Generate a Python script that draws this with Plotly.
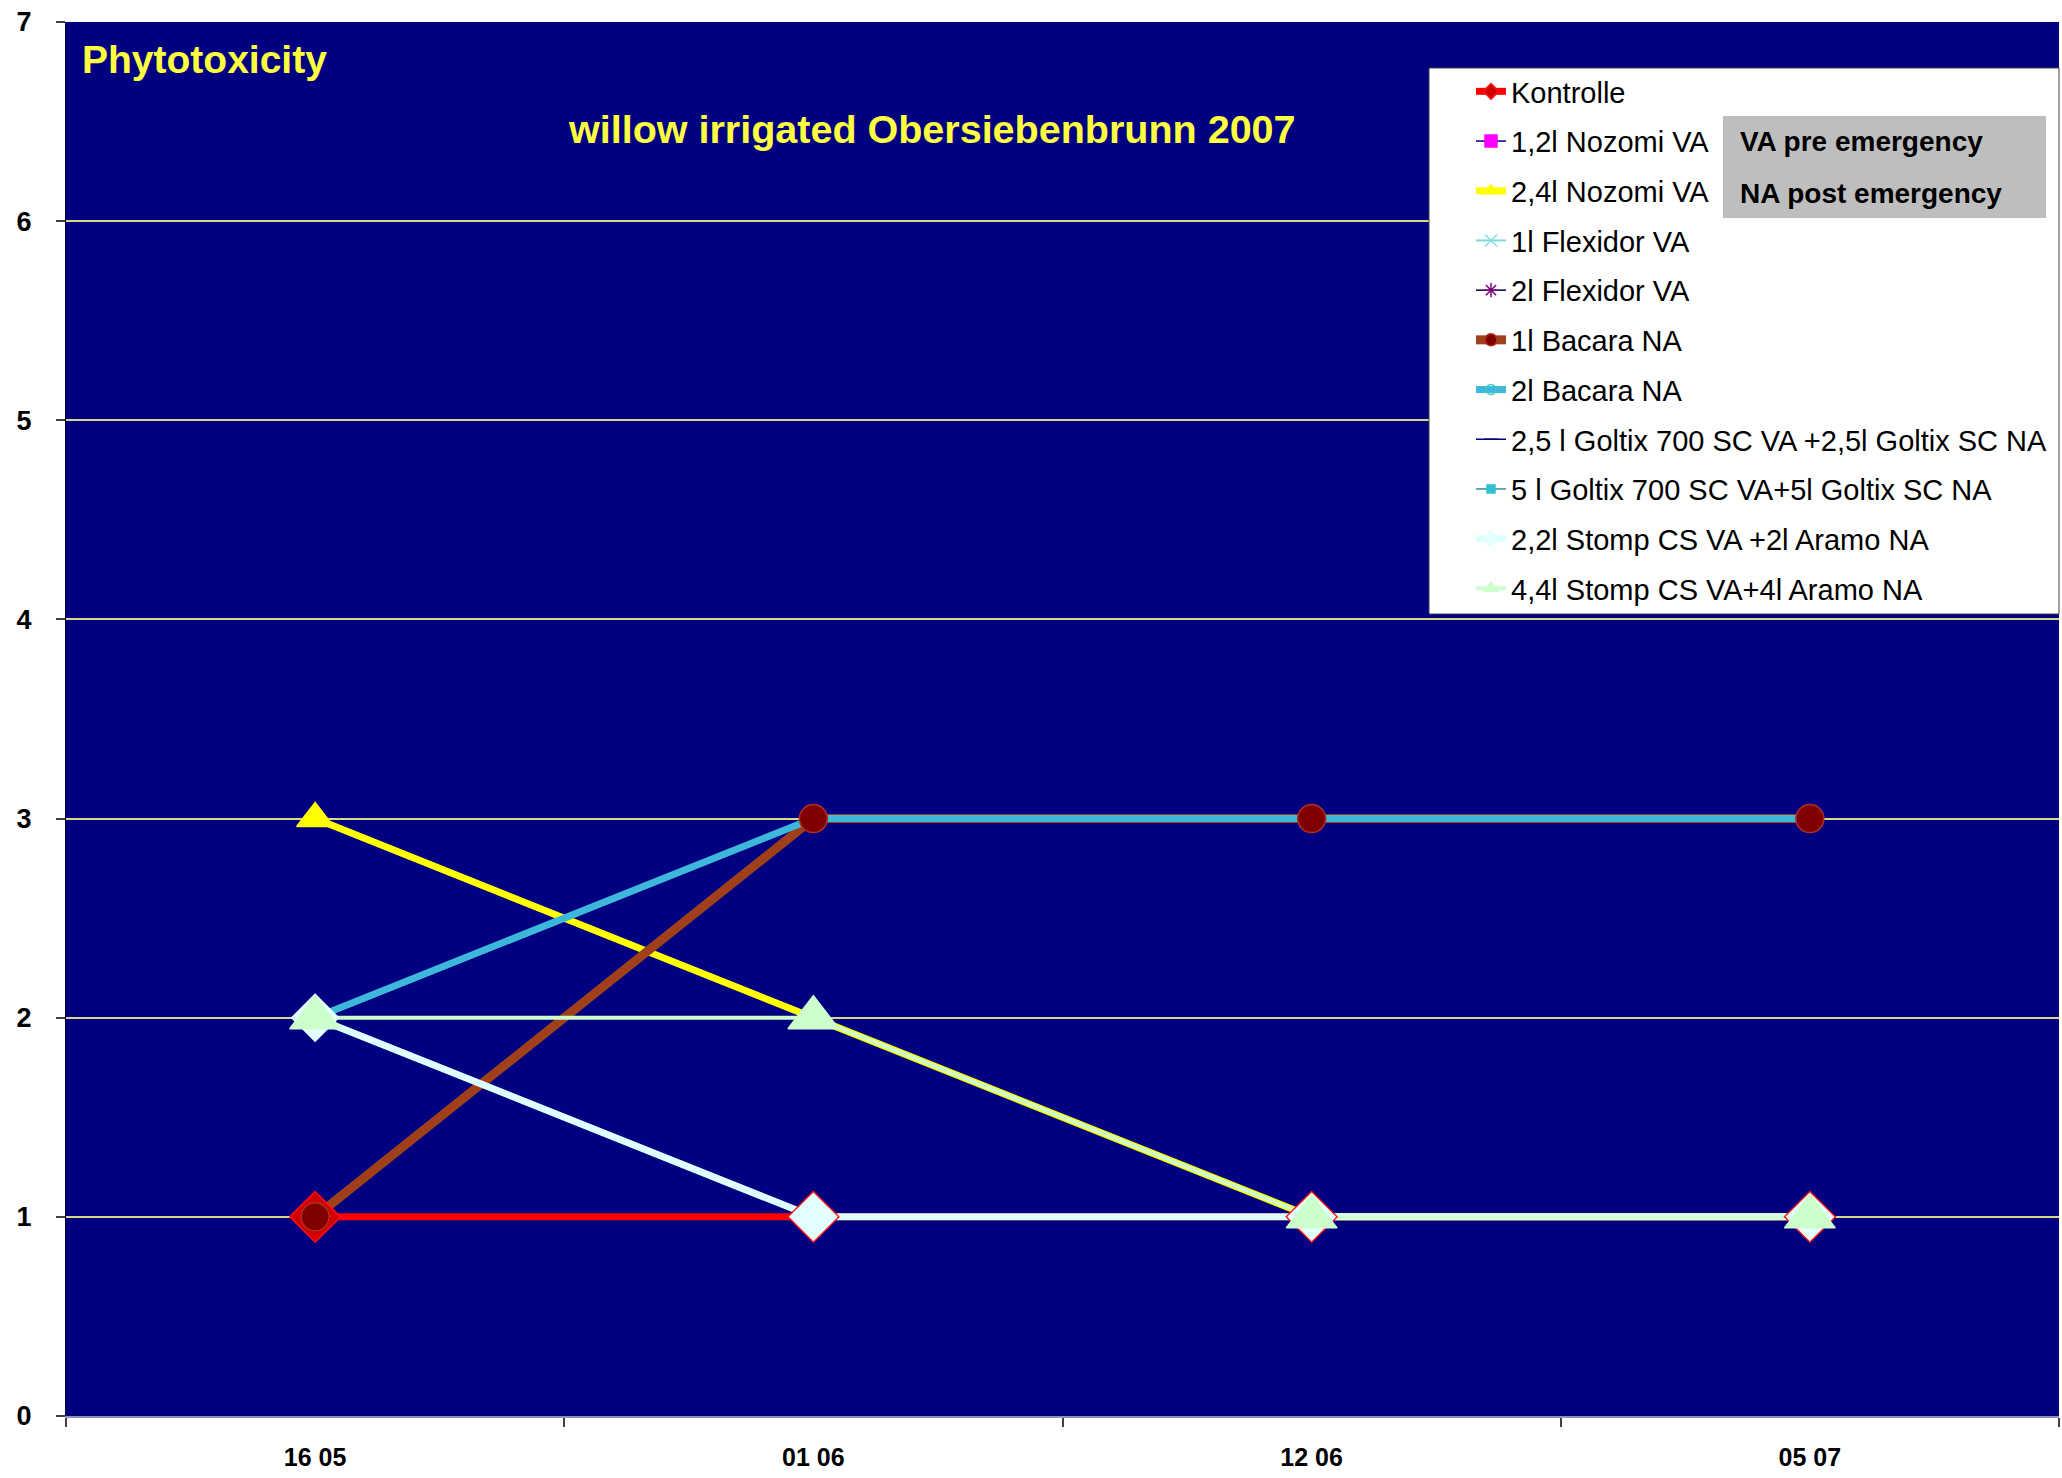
import plotly.graph_objects as go

# Assessment dates (category axis)
dates = ["16 05", "01 06", "12 06", "05 07"]

# Phytotoxicity scores per treatment (None = not assessed / no data)
kontrolle = [1, 1, 1, 1]
nozomi_12 = [None, None, None, None]
nozomi_24 = [3, 2, 1, 1]
flexidor_1 = [None, None, None, None]
flexidor_2 = [None, None, None, None]
bacara_1 = [1, 3, 3, 3]
bacara_2 = [2, 3, 3, 3]
goltix_25 = [None, None, None, None]
goltix_5 = [None, None, None, None]
stomp_22 = [2, 1, 1, 1]
stomp_44 = [2, 2, 1, 1]

y_ticks = [0, 1, 2, 3, 4, 5, 6, 7]

# name, values, line colour, line width, marker symbol, marker size, marker fill, marker edge
series = [
    ("Kontrolle", kontrolle, "#FF0000", 7, "diamond", 39, "#D00000", "#FF1010"),
    ("1,2l Nozomi VA", nozomi_12, "#000080", 1.5, "square", 12, "#FF00FF", "#FF00FF"),
    ("2,4l Nozomi VA", nozomi_24, "#FFFF00", 7, "triangle-up", 32, "#FFFF00", "#FFFF00"),
    ("1l Flexidor VA", flexidor_1, "#7FD8D8", 2, "x-thin-open", 14, "#7FE0E0", "#7FE0E0"),
    ("2l Flexidor VA", flexidor_2, "#000040", 1.5, "asterisk-open", 14, "#800080", "#800080"),
    ("1l Bacara NA", bacara_1, "#A0401A", 9, "circle", 28, "#800000", "#B03020"),
    ("2l Bacara NA", bacara_2, "#3EB8DA", 7, "circle-open", 10, "#3EC8C0", "#3EC8C0"),
    ("2,5 l Goltix 700 SC VA +2,5l Goltix SC NA", goltix_25, "#000080", 1.5, "line-ew-open", 10, "#000080", "#000080"),
    ("5 l Goltix 700 SC VA+5l Goltix SC NA", goltix_5, "#3090A0", 1.5, "square", 8, "#30C0D0", "#30C0D0"),
    ("2,2l Stomp CS VA +2l Aramo NA", stomp_22, "#DDFFFF", 7, "diamond", 36, "#E4FFFF", "#E4FFFF"),
    ("4,4l Stomp CS VA+4l Aramo NA", stomp_44, "#CCFFCC", 4, "triangle-up", 44, "#CCFFCC", "#CCFFCC"),
]

fig = go.Figure()

# Lines of all series first, in series order
for name, vals, lc, lw, sym, ms, mf, me in series:
    fig.add_trace(go.Scatter(
        x=dates, y=vals, mode="lines", name=name, showlegend=False,
        line=dict(color=lc, width=lw), hoverinfo="skip"))

# Markers on top of all lines; teal Bacara markers sit under the brown ones
marker_order = [0, 1, 2, 3, 4, 6, 5, 7, 8, 9, 10]
for i in marker_order:
    name, vals, lc, lw, sym, ms, mf, me = series[i]
    fig.add_trace(go.Scatter(
        x=dates, y=vals, mode="markers", name=name, showlegend=False,
        marker=dict(symbol=sym, size=ms, color=mf, line=dict(color=me, width=1.5))))

# Legend entries (no data, style only)
for k, (name, vals, lc, lw, sym, ms, mf, me) in enumerate(series):
    fig.add_trace(go.Scatter(
        x=[None], y=[None], mode="lines+markers", name=name,
        legendgroup=f"g{k}", legendrank=k + 1,
        line=dict(color=lc, width=lw),
        marker=dict(symbol=sym, size=min(ms, 12), color=mf, line=dict(color=me, width=1.5))))

L, R, T, B = 66, 3, 22, 62
W, H = 2062, 1478
PW, PH = W - L - R, H - T - B


def px(x):
    return (x - L) / PW


def py(y):
    return (H - B - y) / PH


shapes = [
    # white legend panel
    dict(type="rect", xref="paper", yref="paper", x0=px(1429), x1=1.0, y0=py(614), y1=py(68),
         fillcolor="#FFFFFF", line=dict(color="#404040", width=1), layer="above"),
    # grey note box
    dict(type="rect", xref="paper", yref="paper", x0=px(1723), x1=px(2046), y0=py(218), y1=py(116),
         fillcolor="#BEBEBE", line=dict(width=0), layer="above"),
]

annotations = [
    dict(text="<b>Phytotoxicity</b>", xref="paper", yref="paper", x=px(80), y=py(60),
         xanchor="left", yanchor="middle", showarrow=False,
         font=dict(family="Liberation Sans, Arial", size=39, color="#FFFF40")),
    dict(text="<b>willow irrigated Obersiebenbrunn 2007</b>", xref="paper", yref="paper",
         x=px(566), y=py(129), xanchor="left", yanchor="middle", showarrow=False,
         font=dict(family="Liberation Sans, Arial", size=39.5, color="#FFFF40")),
    dict(text="<b>VA pre emergency</b>", xref="paper", yref="paper", x=px(1738), y=py(142),
         xanchor="left", yanchor="middle", showarrow=False,
         font=dict(family="Liberation Sans, Arial", size=28, color="#000000")),
    dict(text="<b>NA post emergency</b>", xref="paper", yref="paper", x=px(1738), y=py(193),
         xanchor="left", yanchor="middle", showarrow=False,
         font=dict(family="Liberation Sans, Arial", size=28, color="#000000")),
]

fig.update_layout(
    width=W, height=H,
    margin=dict(l=L, r=R, t=T, b=B, pad=0),
    paper_bgcolor="#FFFFFF",
    plot_bgcolor="#000080",
    showlegend=True,
    legend=dict(
        x=px(1471), y=py(66), xanchor="left", yanchor="top",
        bgcolor="rgba(0,0,0,0)", borderwidth=0,
        font=dict(family="Liberation Sans, Arial", size=29, color="#000000"),
        tracegroupgap=9, itemsizing="trace", traceorder="grouped"),
    shapes=shapes,
    annotations=annotations,
    xaxis=dict(
        type="category", categoryorder="array", categoryarray=dates,
        range=[-0.5, 3.5], tickson="boundaries", ticks="outside", ticklen=9,
        tickcolor="#404040", tickwidth=2, showgrid=False, zeroline=False,
        showline=True, linecolor="#9090C0", linewidth=2,
        ticklabelstandoff=18,
        tickfont=dict(family="Liberation Sans, Arial", size=25, color="#000000", weight="bold")),
    yaxis=dict(
        range=[0, 7], tickvals=y_ticks, ticks="outside", ticklen=9,
        tickcolor="#404040", tickwidth=2, showgrid=True, gridcolor="#D8D888", gridwidth=2,
        zeroline=False, showline=True, linecolor="#000040", linewidth=1,
        ticklabelstandoff=19,
        tickfont=dict(family="Liberation Sans, Arial", size=27, color="#000000", weight="bold")),
)

fig.write_html("out.html")
